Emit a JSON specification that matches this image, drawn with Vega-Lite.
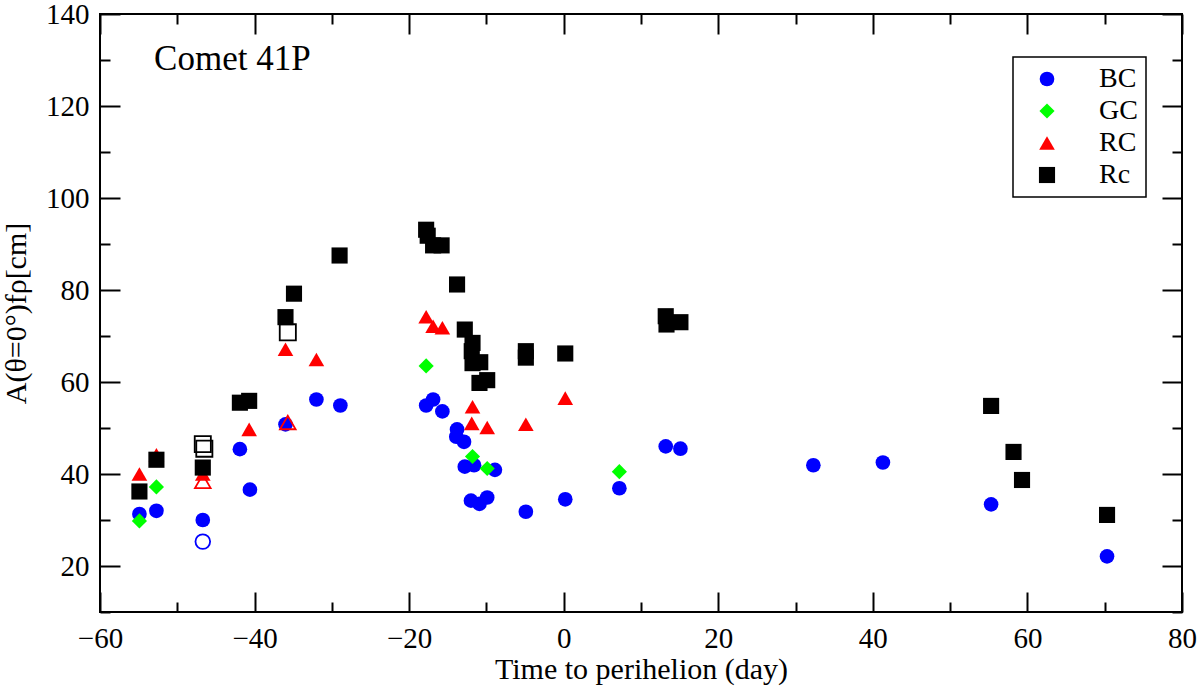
{
  "$schema": "https://vega.github.io/schema/vega-lite/v6.json",
  "width": 1082,
  "height": 598,
  "autosize": {"type": "none"},
  "padding": {"left": 100, "top": 14, "right": 18, "bottom": 74},
  "background": "white",
  "config": {
    "view": {"stroke": "black", "strokeWidth": 2},
    "font": "Liberation Serif",
    "axis": {
      "domain": false,
      "grid": false,
      "tickColor": "black",
      "tickWidth": 2,
      "labelFont": "Liberation Serif",
      "labelFontSize": 29,
      "labelColor": "black",
      "labelFlush": false,
      "labelOverlap": false,
      "labelBound": false,
      "titleFont": "Liberation Serif",
      "titleFontSize": 30,
      "titleFontWeight": "normal",
      "titleColor": "black"
    },
    "legend": {
      "labelFont": "Liberation Serif",
      "labelFontSize": 28,
      "labelColor": "black",
      "labelLimit": 45,
      "strokeColor": "black",
      "strokeWidth": 1.5,
      "padding": 8,
      "rowPadding": 4,
      "columnPadding": 0,
      "columns": 1,
      "gridAlign": "none",
      "symbolSize": 210,
      "symbolOffset": 12,
      "labelOffset": 38,
      "symbolStrokeWidth": 0
    }
  },
  "datasets": {
    "fr": [
      {"series": "BC", "t": -54.9, "v": 31.3, "open": false},
      {"series": "BC", "t": -52.7, "v": 32.0, "open": false},
      {"series": "BC", "t": -46.7, "v": 30.0, "open": false},
      {"series": "BC", "t": -46.7, "v": 25.3, "open": true},
      {"series": "BC", "t": -41.9, "v": 45.4, "open": false},
      {"series": "BC", "t": -40.6, "v": 36.6, "open": false},
      {"series": "BC", "t": -36.0, "v": 50.8, "open": false},
      {"series": "BC", "t": -32.0, "v": 56.2, "open": false},
      {"series": "BC", "t": -28.9, "v": 54.9, "open": false},
      {"series": "BC", "t": -17.8, "v": 54.9, "open": false},
      {"series": "BC", "t": -16.9, "v": 56.2, "open": false},
      {"series": "BC", "t": -15.7, "v": 53.6, "open": false},
      {"series": "BC", "t": -13.8, "v": 49.7, "open": false},
      {"series": "BC", "t": -13.9, "v": 48.1, "open": false},
      {"series": "BC", "t": -12.9, "v": 47.0, "open": false},
      {"series": "BC", "t": -12.8, "v": 41.6, "open": false},
      {"series": "BC", "t": -11.6, "v": 41.9, "open": false},
      {"series": "BC", "t": -8.9, "v": 40.9, "open": false},
      {"series": "BC", "t": -12.0, "v": 34.2, "open": false},
      {"series": "BC", "t": -10.9, "v": 33.5, "open": false},
      {"series": "BC", "t": -9.9, "v": 34.9, "open": false},
      {"series": "BC", "t": -4.9, "v": 31.8, "open": false},
      {"series": "BC", "t": 0.2, "v": 34.5, "open": false},
      {"series": "BC", "t": 7.2, "v": 36.9, "open": false},
      {"series": "BC", "t": 13.2, "v": 46.0, "open": false},
      {"series": "BC", "t": 15.1, "v": 45.5, "open": false},
      {"series": "BC", "t": 32.3, "v": 41.9, "open": false},
      {"series": "BC", "t": 41.3, "v": 42.5, "open": false},
      {"series": "BC", "t": 55.3, "v": 33.4, "open": false},
      {"series": "BC", "t": 70.3, "v": 22.1, "open": false},
      {"series": "GC", "t": -54.9, "v": 29.8, "open": false},
      {"series": "GC", "t": -52.7, "v": 37.2, "open": false},
      {"series": "GC", "t": -17.8, "v": 63.5, "open": false},
      {"series": "GC", "t": -11.8, "v": 43.8, "open": false},
      {"series": "GC", "t": -9.9, "v": 41.2, "open": false},
      {"series": "GC", "t": 7.2, "v": 40.5, "open": false},
      {"series": "RC", "t": -54.9, "v": 40.0, "open": false},
      {"series": "RC", "t": -52.7, "v": 44.2, "open": false},
      {"series": "RC", "t": -46.7, "v": 40.0, "open": false},
      {"series": "RC", "t": -46.7, "v": 38.4, "open": true},
      {"series": "RC", "t": -40.7, "v": 49.7, "open": false},
      {"series": "RC", "t": -36.0, "v": 67.1, "open": false},
      {"series": "RC", "t": -35.7, "v": 51.2, "open": true},
      {"series": "RC", "t": -32.0, "v": 64.9, "open": false},
      {"series": "RC", "t": -17.8, "v": 74.2, "open": false},
      {"series": "RC", "t": -16.9, "v": 72.1, "open": false},
      {"series": "RC", "t": -15.7, "v": 71.8, "open": false},
      {"series": "RC", "t": -11.8, "v": 54.6, "open": false},
      {"series": "RC", "t": -11.9, "v": 51.0, "open": false},
      {"series": "RC", "t": -9.9, "v": 50.1, "open": false},
      {"series": "RC", "t": -4.9, "v": 50.8, "open": false},
      {"series": "RC", "t": 0.2, "v": 56.5, "open": false},
      {"series": "Rc", "t": -54.9, "v": 36.2, "open": false},
      {"series": "Rc", "t": -52.7, "v": 43.1, "open": false},
      {"series": "Rc", "t": -46.7, "v": 41.4, "open": false},
      {"series": "Rc", "t": -46.7, "v": 46.5, "open": true},
      {"series": "Rc", "t": -46.5, "v": 45.5, "open": true},
      {"series": "Rc", "t": -41.9, "v": 55.5, "open": false},
      {"series": "Rc", "t": -40.7, "v": 55.9, "open": false},
      {"series": "Rc", "t": -36.0, "v": 74.1, "open": false},
      {"series": "Rc", "t": -35.7, "v": 70.8, "open": true},
      {"series": "Rc", "t": -34.9, "v": 79.2, "open": false},
      {"series": "Rc", "t": -29.0, "v": 87.5, "open": false},
      {"series": "Rc", "t": -17.8, "v": 93.1, "open": false},
      {"series": "Rc", "t": -17.6, "v": 91.8, "open": false},
      {"series": "Rc", "t": -16.9, "v": 89.7, "open": false},
      {"series": "Rc", "t": -15.8, "v": 89.7, "open": false},
      {"series": "Rc", "t": -13.8, "v": 81.2, "open": false},
      {"series": "Rc", "t": -12.8, "v": 71.4, "open": false},
      {"series": "Rc", "t": -11.8, "v": 68.5, "open": false},
      {"series": "Rc", "t": -11.9, "v": 66.7, "open": false},
      {"series": "Rc", "t": -11.8, "v": 64.1, "open": false},
      {"series": "Rc", "t": -10.8, "v": 64.3, "open": false},
      {"series": "Rc", "t": -10.9, "v": 59.8, "open": false},
      {"series": "Rc", "t": -9.9, "v": 60.4, "open": false},
      {"series": "Rc", "t": -4.9, "v": 66.7, "open": false},
      {"series": "Rc", "t": -4.9, "v": 65.3, "open": false},
      {"series": "Rc", "t": 0.2, "v": 66.2, "open": false},
      {"series": "Rc", "t": 13.2, "v": 74.3, "open": false},
      {"series": "Rc", "t": 13.3, "v": 72.5, "open": false},
      {"series": "Rc", "t": 15.1, "v": 73.0, "open": false},
      {"series": "Rc", "t": 55.3, "v": 54.8, "open": false},
      {"series": "Rc", "t": 58.2, "v": 44.8, "open": false},
      {"series": "Rc", "t": 59.3, "v": 38.7, "open": false},
      {"series": "Rc", "t": 70.3, "v": 31.1, "open": false}
    ],
    "note": [
      {"t": -53.0, "v": 127.9, "label": "Comet 41P"}
    ]
  },
  "resolve": {"axis": {"x": "independent", "y": "independent"}},
  "layer": [
    {
      "data": {"name": "fr"},
      "mark": {"type": "point", "filled": true, "opacity": 1},
      "encoding": {
        "x": {
          "field": "t",
          "type": "quantitative",
          "scale": {"domain": [-60, 80], "nice": false, "zero": false},
          "axis": {
            "orient": "bottom",
            "title": "Time to perihelion (day)",
            "titleX": 541,
            "titleY": 66,
            "titleBaseline": "alphabetic",
            "values": [-60, -50, -40, -30, -20, -10, 0, 10, 20, 30, 40, 50, 60, 70, 80],
            "tickSize": {"condition": {"test": "datum.value % 20 === 0", "value": -20}, "value": -10},
            "labelPadding": 32,
            "labelExpr": "datum.value % 20 === 0 ? datum.label : ''"
          }
        },
        "y": {
          "field": "v",
          "type": "quantitative",
          "scale": {"domain": [10, 140], "nice": false, "zero": false},
          "axis": {
            "orient": "left",
            "title": "A(θ=0°)fρ[cm]",
            "titleX": -84,
            "titleY": 299,
            "titleAngle": -90,
            "titleAlign": "center",
            "titleBaseline": "middle",
            "values": [10, 20, 30, 40, 50, 60, 70, 80, 90, 100, 110, 120, 130, 140],
            "tickSize": {"condition": {"test": "datum.value % 20 === 0", "value": -20}, "value": -10},
            "labelPadding": 31,
            "labelExpr": "datum.value % 20 === 0 ? datum.label : ''"
          }
        },
        "color": {
          "field": "series",
          "type": "nominal",
          "scale": {"domain": ["BC", "GC", "RC", "Rc"], "range": ["#0000ff", "#00ff00", "#ff0000", "#000000"]},
          "legend": {"title": null, "orient": "none", "legendX": 913, "legendY": 43}
        },
        "shape": {
          "field": "series",
          "type": "nominal",
          "scale": {"domain": ["BC", "GC", "RC", "Rc"], "range": ["circle", "diamond", "triangle-up", "square"]},
          "legend": {"title": null, "orient": "none", "legendX": 913, "legendY": 43}
        },
        "stroke": {
          "field": "series",
          "type": "nominal",
          "scale": {"domain": ["BC", "GC", "RC", "Rc"], "range": ["#0000ff", "#00ff00", "#ff0000", "#000000"]},
          "legend": null
        },
        "size": {
          "field": "series",
          "type": "nominal",
          "scale": {"domain": ["BC", "GC", "RC", "Rc"], "range": [215, 260, 260, 175]},
          "legend": null
        },
        "fillOpacity": {"condition": {"test": "datum.open", "value": 0}, "value": 1},
        "strokeWidth": {"condition": {"test": "datum.open", "value": 1.8}, "value": 0}
      }
    },
    {
      "data": {"name": "note"},
      "mark": {"type": "text", "align": "left", "baseline": "alphabetic", "fontSize": 35, "font": "Liberation Serif", "color": "black"},
      "encoding": {
        "x": {
          "field": "t",
          "type": "quantitative",
          "axis": {
            "orient": "top",
            "title": null,
            "labels": false,
            "values": [-60, -50, -40, -30, -20, -10, 0, 10, 20, 30, 40, 50, 60, 70, 80],
            "tickSize": {"condition": {"test": "datum.value % 20 === 0", "value": -20}, "value": -10}
          }
        },
        "y": {
          "field": "v",
          "type": "quantitative",
          "axis": {
            "orient": "right",
            "title": null,
            "labels": false,
            "values": [10, 20, 30, 40, 50, 60, 70, 80, 90, 100, 110, 120, 130, 140],
            "tickSize": {"condition": {"test": "datum.value % 20 === 0", "value": -20}, "value": -10}
          }
        },
        "text": {"field": "label"}
      }
    }
  ]
}
